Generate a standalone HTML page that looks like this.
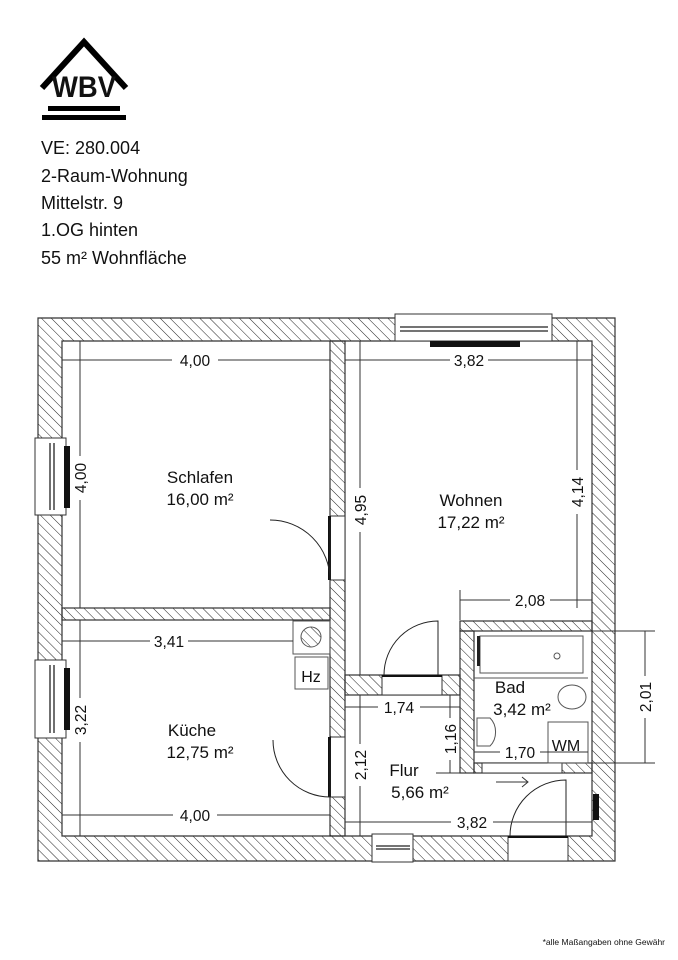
<!DOCTYPE html>
<html><head><meta charset="utf-8"><style>
html,body{margin:0;padding:0;background:#fff;width:678px;height:960px;overflow:hidden}
svg{display:block}
text{font-family:"Liberation Sans",sans-serif;fill:#111}
</style></head><body>
<svg width="678" height="960" viewBox="0 0 678 960" xmlns="http://www.w3.org/2000/svg">
<defs>
<pattern id="h" width="7" height="7" patternUnits="userSpaceOnUse" patternTransform="rotate(-45)">
<line x1="0" y1="0" x2="0" y2="7" stroke="#222" stroke-width="1"/>
</pattern>
</defs>
<!-- logo -->
<polyline points="42,88 84,42 126,88" fill="none" stroke="#000" stroke-width="6"/>
<text x="84" y="97" font-size="30" font-weight="bold" text-anchor="middle" textLength="64" lengthAdjust="spacingAndGlyphs">WBV</text>
<rect x="48" y="106" width="72" height="5" fill="#000"/>
<rect x="42" y="115" width="84" height="5" fill="#000"/>
<g font-size="18">
<text x="41" y="154">VE: 280.004</text>
<text x="41" y="182">2-Raum-Wohnung</text>
<text x="41" y="209">Mittelstr. 9</text>
<text x="41" y="236">1.OG hinten</text>
<text x="41" y="264">55 m² Wohnfläche</text>
</g>
<!-- walls -->
<g fill="url(#h)" stroke="#333" stroke-width="1.2">
<path fill-rule="evenodd" d="M38,318 H615 V861 H38 Z M62,341 V836 H592 V341 Z"/>
<rect x="330" y="341" width="15" height="495"/>
<rect x="62" y="608" width="268" height="12"/>
<rect x="345" y="675" width="115" height="20"/>
<rect x="460" y="621" width="132" height="10"/>
<rect x="460" y="631" width="14" height="142"/>
<rect x="474" y="763" width="118" height="10"/>
</g>
<!-- windows -->
<g fill="#fff" stroke="#333" stroke-width="1">
<rect x="395" y="314" width="157" height="27"/>
<rect x="35" y="438" width="31" height="77"/>
<rect x="35" y="660" width="31" height="78"/>
<rect x="372" y="834" width="41" height="28"/>
<rect x="508" y="836" width="60" height="25"/>
<rect x="330" y="516" width="15" height="64"/>
<rect x="330" y="737" width="15" height="60"/>
<rect x="382" y="675" width="60" height="20"/>
<rect x="482" y="763" width="80" height="10"/>
</g>
<g fill="#111">
<rect x="430" y="341" width="90" height="6"/>
<rect x="64" y="446" width="6" height="62"/>
<rect x="64" y="668" width="6" height="62"/>
<rect x="593" y="794" width="6" height="26"/>
<rect x="328" y="516" width="3" height="64"/>
<rect x="328" y="737" width="3" height="60"/>
<rect x="382" y="675" width="60" height="2"/>
<rect x="508" y="836" width="60" height="2"/>
</g>
<g stroke="#222" fill="none" stroke-width="1.3">
<line x1="400" y1="327" x2="548" y2="327"/><line x1="400" y1="331" x2="548" y2="331"/>
<line x1="50" y1="443" x2="50" y2="510"/><line x1="54" y1="443" x2="54" y2="510"/>
<line x1="50" y1="665" x2="50" y2="733"/><line x1="54" y1="665" x2="54" y2="733"/>
<line x1="376" y1="846" x2="410" y2="846"/><line x1="376" y1="849" x2="410" y2="849"/>
<path d="M330,520 V580 A60,60 0 0 0 270,520" stroke-width="1"/>
<path d="M330,740 V797 A57,57 0 0 1 273,740" stroke-width="1"/>
<path d="M384,675 A54,54 0 0 1 438,621 V675" stroke-width="1"/>
<path d="M510,836 A56,56 0 0 1 566,780 V836" stroke-width="1"/>
</g>
<!-- Hz -->
<g stroke="#555" fill="none" stroke-width="1">
<rect x="293" y="621" width="37" height="33"/>
<rect x="295" y="657" width="33" height="32"/>
<circle cx="311" cy="637" r="10" fill="url(#h)"/>
<rect x="480" y="636" width="103" height="37"/>
<line x1="474" y1="678" x2="588" y2="678"/>
<circle cx="557" cy="656" r="3"/>
<ellipse cx="572" cy="697" rx="14" ry="12"/>
<path d="M477,718 H490 A15,18 0 0 1 490,746 H477 Z"/>
<rect x="548" y="722" width="40" height="41"/>
</g>
<rect x="477" y="636" width="3" height="30" fill="#222"/>
<text x="566" y="751" font-size="16" text-anchor="middle">WM</text>
<text x="311" y="682" font-size="16" text-anchor="middle">Hz</text>
<!-- dimension lines -->
<g stroke="#333" stroke-width="1" fill="none">
<path d="M62,360 H172 M218,360 H330"/>
<path d="M80,341 V456 M80,500 V608"/>
<path d="M345,360 H450 M488,360 H592"/>
<path d="M577,341 V470 M577,514 V608"/>
<path d="M360,341 V488 M360,532 V675"/>
<path d="M460,600 H510 M550,600 H592 M460,590 V620"/>
<path d="M62,641 H150 M188,641 H293"/>
<path d="M80,620 V698 M80,742 V836"/>
<path d="M62,815 H173 M217,815 H330"/>
<path d="M345,707 H378 M420,707 H460"/>
<path d="M450,695 V718 M450,760 V773 M436,773 H460"/>
<path d="M360,695 V744 M360,786 V836"/>
<path d="M345,822 H451 M493,822 H592"/>
<path d="M474,752 H500 M540,752 H588"/>
<path d="M645,631 V676 M645,718 V763 M592,631 H655 M592,763 H655"/>
<path d="M496,782 H528 M522,777 L528,782 L522,787"/>
</g>
<g font-size="15.5" text-anchor="middle">
<text x="195" y="366">4,00</text>
<text x="469" y="366">3,82</text>
<text x="530" y="606">2,08</text>
<text x="169" y="647">3,41</text>
<text x="195" y="821">4,00</text>
<text x="399" y="713">1,74</text>
<text x="472" y="828">3,82</text>
<text x="520" y="758">1,70</text>
<text transform="translate(86,478) rotate(-90)">4,00</text>
<text transform="translate(583,492) rotate(-90)">4,14</text>
<text transform="translate(366,510) rotate(-90)">4,95</text>
<text transform="translate(86,720) rotate(-90)">3,22</text>
<text transform="translate(456,739) rotate(-90)">1,16</text>
<text transform="translate(366,765) rotate(-90)">2,12</text>
<text transform="translate(651,697) rotate(-90)">2,01</text>
</g>
<g font-size="17" text-anchor="middle">
<text x="200" y="483">Schlafen</text>
<text x="200" y="505">16,00 m²</text>
<text x="471" y="506">Wohnen</text>
<text x="471" y="528">17,22 m²</text>
<text x="192" y="736">Küche</text>
<text x="200" y="758">12,75 m²</text>
<text x="404" y="776">Flur</text>
<text x="420" y="798">5,66 m²</text>
<text x="510" y="693">Bad</text>
<text x="522" y="715">3,42 m²</text>
</g>
<text x="665" y="945" font-size="8.5" text-anchor="end">*alle Maßangaben ohne Gewähr</text>
</svg>
</body></html>
